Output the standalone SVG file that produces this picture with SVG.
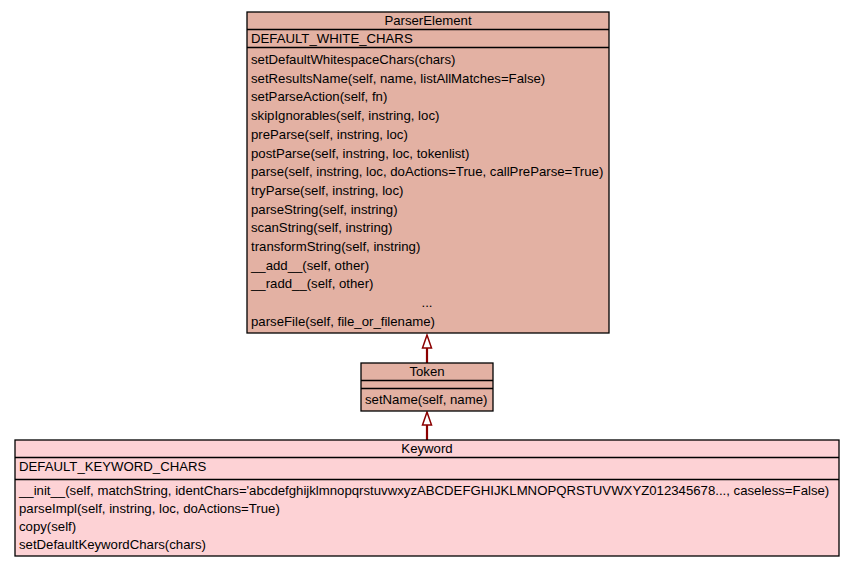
<svg xmlns="http://www.w3.org/2000/svg" width="856" height="568" viewBox="0 0 856 568">
<style>
text{font-family:"Liberation Sans",Arial,sans-serif;font-size:13.2px;fill:#000}
.c{text-anchor:middle}
.box{stroke:#000;stroke-width:1.3}
.pe{fill:#e3b1a3}
.kw{fill:#fdd2d5}
.sep{stroke:#000;stroke-width:1.3}
.edge{stroke:#8b0000;stroke-width:2.2;fill:none}
.head{stroke:#8b0000;stroke-width:1.5;fill:#fff}
</style>
<rect width="856" height="568" fill="#fff"/>
<g id="connectors">
<line class="edge" x1="427" y1="363" x2="427" y2="347"/>
<polygon class="head" points="427,335 422.5,348 431.5,348"/>
<line class="edge" x1="427" y1="440" x2="427" y2="424"/>
<polygon class="head" points="427,412 422.5,425 431.5,425"/>
</g>
<g id="ParserElement">
<rect class="box pe" x="247" y="12" width="362" height="321"/>
<line class="sep" x1="247" y1="29.5" x2="609" y2="29.5"/>
<line class="sep" x1="247" y1="47.5" x2="609" y2="47.5"/>
<text class="c" x="428" y="25">ParserElement</text>
<text x="251" y="43">DEFAULT_WHITE_CHARS</text>
<text x="251" y="64">setDefaultWhitespaceChars(chars)</text>
<text x="251" y="82.7">setResultsName(self, name, listAllMatches=False)</text>
<text x="251" y="101.4">setParseAction(self, fn)</text>
<text x="251" y="120.1">skipIgnorables(self, instring, loc)</text>
<text x="251" y="138.8">preParse(self, instring, loc)</text>
<text x="251" y="157.5">postParse(self, instring, loc, tokenlist)</text>
<text x="251" y="176.2">parse(self, instring, loc, doActions=True, callPreParse=True)</text>
<text x="251" y="194.9">tryParse(self, instring, loc)</text>
<text x="251" y="213.6">parseString(self, instring)</text>
<text x="251" y="232.3">scanString(self, instring)</text>
<text x="251" y="251">transformString(self, instring)</text>
<text x="251" y="269.7">__add__(self, other)</text>
<text x="251" y="288.4">__radd__(self, other)</text>
<text class="c" x="427" y="307.1">...</text>
<text x="251" y="325.8">parseFile(self, file_or_filename)</text>
</g>
<g id="Token">
<rect class="box pe" x="361" y="363" width="132" height="48"/>
<line class="sep" x1="361" y1="380.5" x2="493" y2="380.5"/>
<line class="sep" x1="361" y1="388.5" x2="493" y2="388.5"/>
<text class="c" x="427" y="376">Token</text>
<text x="365" y="404">setName(self, name)</text>
</g>
<g id="Keyword">
<rect class="box kw" x="15" y="440" width="824" height="116"/>
<line class="sep" x1="15" y1="457.5" x2="839" y2="457.5"/>
<line class="sep" x1="15" y1="479.5" x2="839" y2="479.5"/>
<text class="c" x="427" y="453">Keyword</text>
<text x="19" y="471">DEFAULT_KEYWORD_CHARS</text>
<text x="19" y="495">__init__(self, matchString, identChars='abcdefghijklmnopqrstuvwxyzABCDEFGHIJKLMNOPQRSTUVWXYZ012345678..., caseless=False)</text>
<text x="19" y="513">parseImpl(self, instring, loc, doActions=True)</text>
<text x="19" y="531">copy(self)</text>
<text x="19" y="549">setDefaultKeywordChars(chars)</text>
</g>
</svg>
